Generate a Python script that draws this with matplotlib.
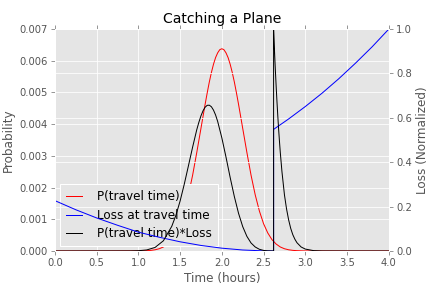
import matplotlib
matplotlib.use("Agg")
import matplotlib.pyplot as plt

plt.style.use("ggplot")

# P(travel time), left axis
t_prob = [0.0, 0.5, 1.00, 1.05, 1.10, 1.15, 1.20, 1.25, 1.30, 1.35, 1.40, 1.45, 1.50,
          1.55, 1.60, 1.65, 1.70, 1.75, 1.80, 1.825, 1.85, 1.875, 1.90, 1.925, 1.95,
          1.975, 2.00, 2.025, 2.05, 2.075, 2.10, 2.125, 2.15, 2.175, 2.20, 2.25,
          2.30, 2.35, 2.40, 2.45, 2.50, 2.55, 2.60, 2.65, 2.70, 2.75, 2.80, 2.85,
          2.90, 2.95, 3.00, 3.5, 4.0]
p_travel = [0.0, 0.0, 0.000002, 0.000005, 0.00001, 0.00002, 0.000038, 0.000071,
            0.000127, 0.00022, 0.00036, 0.00057, 0.00086, 0.00126, 0.00177, 0.00239,
            0.00311, 0.00387, 0.00463, 0.00499, 0.00533, 0.00563, 0.00589, 0.0061,
            0.00625, 0.00635, 0.00638, 0.00635, 0.00625, 0.0061, 0.00589, 0.00563,
            0.00533, 0.00499, 0.00463, 0.00387, 0.00311, 0.00239, 0.00177, 0.00126,
            0.00086, 0.00057, 0.00036, 0.00022, 0.000127, 0.000071, 0.000038,
            0.00002, 0.00001, 0.000005, 0.000002, 0.0, 0.0]

# loss at travel time, right axis (jump when the plane is missed)
t_loss = [0.0, 0.25, 0.5, 0.75, 1.0, 1.25, 1.5, 1.75, 2.0, 2.25, 2.5, 2.62,
          2.62, 2.8, 3.0, 3.2, 3.4, 3.6, 3.8, 4.0]
loss = [0.227, 0.186, 0.149, 0.116, 0.085, 0.062, 0.0415, 0.025, 0.0127, 0.0045,
        0.0005, 0.0, 0.548, 0.595, 0.651, 0.711, 0.776, 0.846, 0.920, 1.0]

# P(travel time)*Loss, normalized, right axis
t_cost = [0.0, 0.9, 1.0, 1.1, 1.2, 1.3, 1.4, 1.45, 1.5, 1.55, 1.6, 1.65, 1.7, 1.725,
          1.75, 1.775, 1.8, 1.825, 1.85, 1.875, 1.9, 1.925, 1.95, 2.0, 2.05, 2.1,
          2.15, 2.2, 2.25, 2.3, 2.35, 2.4, 2.45, 2.5, 2.55, 2.62, 2.62, 2.63, 2.64,
          2.65, 2.66, 2.67, 2.68, 2.69, 2.7, 2.72, 2.75, 2.775, 2.8, 2.825, 2.85,
          2.875, 2.9, 2.95, 3.0, 3.1, 3.2, 3.5, 4.0]
cost = [0.0, 0.0003, 0.0012, 0.0047, 0.016, 0.046, 0.111, 0.161, 0.225, 0.301,
        0.384, 0.468, 0.547, 0.580, 0.609, 0.632, 0.648, 0.6565, 0.657, 0.650,
        0.635, 0.613, 0.584, 0.510, 0.423, 0.331, 0.245, 0.170, 0.110, 0.066,
        0.036, 0.018, 0.0076, 0.0026, 0.0006, 0.0, 1.0, 0.909, 0.825, 0.747,
        0.676, 0.611, 0.550, 0.496, 0.445, 0.358, 0.253, 0.190, 0.1405, 0.102,
        0.0736, 0.053, 0.0372, 0.018, 0.0086, 0.0016, 0.0002, 0.0, 0.0]

fig = plt.figure(figsize=(6, 4), dpi=72)
ax1 = fig.add_axes([0.127, 0.1285, 0.773, 0.7705])
ax2 = ax1.twinx()

l1, = ax1.plot(t_prob, p_travel, color="#ff0000", lw=1, label="P(travel time)")
l2, = ax2.plot(t_loss, loss, color="#0000ff", lw=1, label="Loss at travel time")
l3, = ax2.plot(t_cost, cost, color="#000000", lw=1, label="P(travel time)*Loss")

ax1.set_xlim(0, 4)
ax1.set_ylim(0, 0.007)
ax2.set_ylim(0, 1.0)
ax1.set_xticks([0.0, 0.5, 1.0, 1.5, 2.0, 2.5, 3.0, 3.5, 4.0])
ax1.set_yticks([0.000, 0.001, 0.002, 0.003, 0.004, 0.005, 0.006, 0.007])
ax1.yaxis.set_major_formatter(matplotlib.ticker.FormatStrFormatter("%.3f"))
ax2.set_yticks([0.0, 0.2, 0.4, 0.6, 0.8, 1.0])
ax2.yaxis.set_major_formatter(matplotlib.ticker.FormatStrFormatter("%.1f"))

for ax in (ax1, ax2):
    ax.tick_params(labelsize=10, colors="#555555", length=4, width=0.6, direction="out")
ax1.tick_params(top=True)

ax1.set_title("Catching a Plane", fontsize=14)
ax1.set_xlabel("Time (hours)", fontsize=12, color="#555555")
ax1.set_ylabel("Probability", fontsize=12, color="#555555")
ax2.set_ylabel("Loss (Normalized)", fontsize=12, color="#555555")

leg = ax1.legend(handles=[l1, l2, l3], loc="lower left", fontsize=12,
                 fancybox=False, framealpha=1, facecolor="#E5E5E5",
                 edgecolor="white", handlelength=1.4, handletextpad=1.25,
                 borderpad=0.5, labelspacing=0.45, borderaxespad=0.4)
leg.get_frame().set_linewidth(1)

fig.savefig("out.png", dpi=72)
